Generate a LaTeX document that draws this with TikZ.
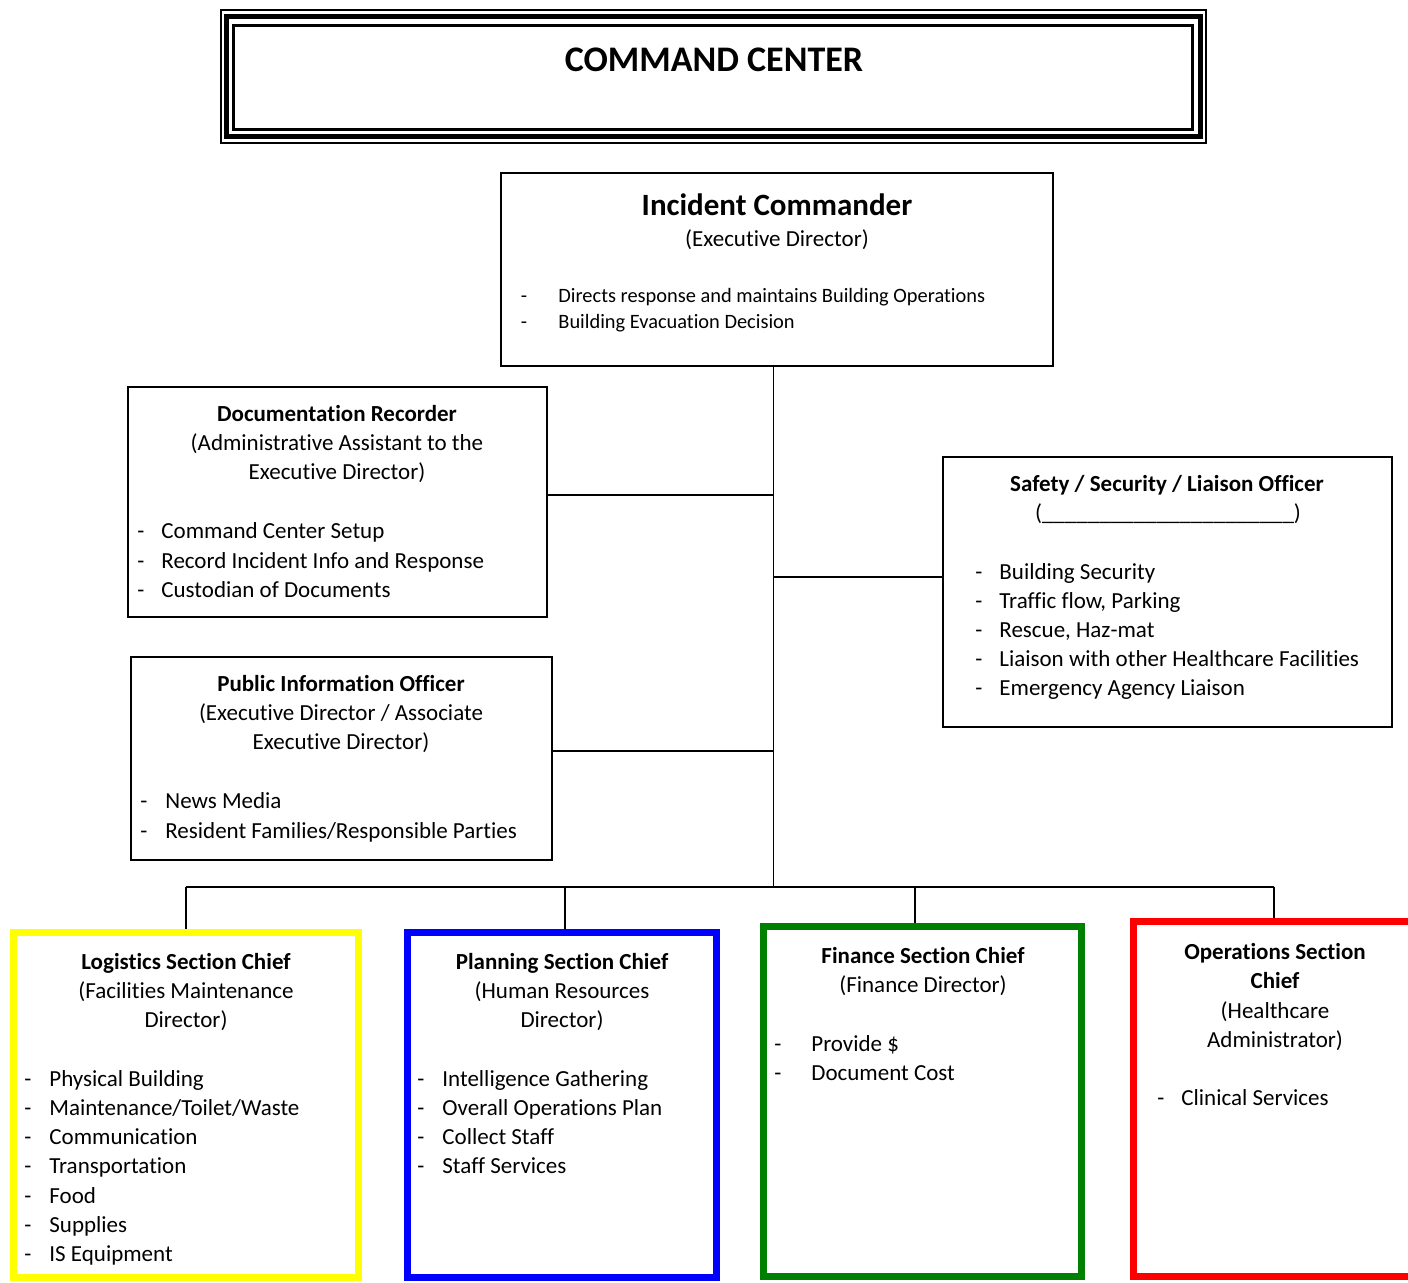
\documentclass[tikz,border=0pt]{standalone}
\usepackage{fontspec}
\setmainfont{Carlito}[Ligatures=NoCommon]
\usetikzlibrary{fit}
\definecolor{secyellow}{RGB}{255,255,0}
\definecolor{secblue}{RGB}{0,0,255}
\definecolor{secgreen}{RGB}{0,128,0}
\definecolor{secred}{RGB}{255,0,0}
\tikzset{
  txt/.style={inner sep=0pt, anchor=base, font=\fontsize{11.5}{14}\selectfont},
  ttl/.style={inner sep=0pt, anchor=base, font=\fontsize{11.5}{14}\selectfont\bfseries},
  dsh/.style={inner sep=0pt, anchor=base, font=\fontsize{11.5}{14}\selectfont},
  itm/.style={inner sep=0pt, anchor=base west, font=\fontsize{11.5}{14}\selectfont},
  sdsh/.style={dsh, font=\fontsize{10.2}{12}\selectfont},
  sitm/.style={itm, font=\fontsize{10.2}{12}\selectfont},
  plainbox/.style={draw, line width=1pt, inner sep=0pt},
  secbox/.style={draw, line width=3.5pt, inner sep=0pt},
  conn/.style={line width=0.75pt}
}
\newcommand\bul[5]{\node[dsh] (#1-d) at (#2,#4) {-}; \node[itm] (#1) at (#3,#4) {#5};}
\newcommand\sbul[5]{\node[sdsh] (#1-d) at (#2,#4) {-}; \node[sitm] (#1) at (#3,#4) {#5};}
\begin{document}
\begin{tikzpicture}[x=0.5pt, y=-0.5pt]
\clip (0,0) rectangle (1408,1282);
\fill[white] (0,0) rectangle (1408,1282);

% Command center triple frame
\node[fit={(221,10)(1206,143)}, draw, line width=1pt, inner sep=0pt] (cc) {};
\node[fit={(226.5,16)(1200,136)}, draw, line width=2.5pt, inner sep=0pt] (cc2) {};
\node[fit={(233.5,25)(1192.5,129.5)}, draw, line width=1.5pt, inner sep=0pt] (cc3) {};
\node[inner sep=0pt, anchor=base, font=\fontsize{18}{22}\selectfont\bfseries] (cct) at (714,71) {COMMAND CENTER};

% Incident Commander
\node[fit={(501,173)(1053,366)}, plainbox] (ic) {};
\node[inner sep=0pt, anchor=base, font=\fontsize{15.5}{19}\selectfont\bfseries] (ic-t) at (777,215) {Incident Commander};
\node[txt] (ic-s) at (777,246) {(Executive Director)};
\sbul{ic-b1}{524}{558}{302}{Directs response and maintains Building Operations}
\sbul{ic-b2}{524}{558}{328}{Building Evacuation Decision}

% Documentation Recorder
\node[fit={(128,387)(547,617)}, plainbox] (dr) {};
\node[ttl] (dr-t) at (337,421) {Documentation Recorder};
\node[txt] (dr-s1) at (337,450) {(Administrative Assistant to the};
\node[txt] (dr-s2) at (337,479) {Executive Director)};
\bul{dr-b1}{141}{161}{538}{Command Center Setup}
\bul{dr-b2}{141}{161}{568}{Record Incident Info and Response}
\bul{dr-b3}{141}{161}{597}{Custodian of Documents}

% Safety / Security / Liaison Officer
\node[fit={(943,457)(1392,727)}, plainbox] (so) {};
\node[ttl] (so-t) at (1167,491) {Safety / Security / Liaison Officer};
\node[txt] (so-s) at (1168,520) {(\_\_\_\_\_\_\_\_\_\_\_\_\_\_\_\_\_\_\_\_\_\_)};
\bul{so-b1}{979}{999}{579}{Building Security}
\bul{so-b2}{979}{999}{608}{Traffic flow, Parking}
\bul{so-b3}{979}{999}{637}{Rescue, Haz-mat}
\bul{so-b4}{979}{999}{666}{Liaison with other Healthcare Facilities}
\bul{so-b5}{979}{999}{695}{Emergency Agency Liaison}

% Public Information Officer
\node[fit={(131,657)(552,860)}, plainbox] (pio) {};
\node[ttl] (pio-t) at (341,691) {Public Information Officer};
\node[txt] (pio-s1) at (341,720) {(Executive Director / Associate};
\node[txt] (pio-s2) at (341,749) {Executive Director)};
\bul{pio-b1}{144}{165}{808}{News Media}
\bul{pio-b2}{144}{165}{838}{Resident Families/Responsible Parties}

% Section chiefs
\node[fit={(13.5,932.5)(358.5,1277.5)}, secbox, draw=secyellow] (log) {};
\node[ttl] (log-t) at (186,969) {Logistics Section Chief};
\node[txt] (log-s1) at (186,998) {(Facilities Maintenance};
\node[txt] (log-s2) at (186,1027) {Director)};
\bul{log-b1}{28}{49}{1086}{Physical Building}
\bul{log-b2}{28}{49}{1115}{Maintenance/Toilet/Waste}
\bul{log-b3}{28}{49}{1144}{Communication}
\bul{log-b4}{28}{49}{1173}{Transportation}
\bul{log-b5}{28}{49}{1203}{Food}
\bul{log-b6}{28}{49}{1232}{Supplies}
\bul{log-b7}{28}{49}{1261}{IS Equipment}

\node[fit={(407.5,932.5)(716.5,1277.5)}, secbox, draw=secblue] (pln) {};
\node[ttl] (pln-t) at (562,969) {Planning Section Chief};
\node[txt] (pln-s1) at (562,998) {(Human Resources};
\node[txt] (pln-s2) at (562,1027) {Director)};
\bul{pln-b1}{421}{442}{1086}{Intelligence Gathering}
\bul{pln-b2}{421}{442}{1115}{Overall Operations Plan}
\bul{pln-b3}{421}{442}{1144}{Collect Staff}
\bul{pln-b4}{421}{442}{1173}{Staff Services}

\node[fit={(763.5,926.5)(1081.5,1276.5)}, secbox, draw=secgreen] (fin) {};
\node[ttl] (fin-t) at (923,963) {Finance Section Chief};
\node[txt] (fin-s) at (923,992) {(Finance Director)};
\bul{fin-b1}{778}{811}{1051}{Provide \$}
\bul{fin-b2}{778}{811}{1080}{Document Cost}

\node[fit={(1133.5,921.5)(1420,1276.5)}, secbox, draw=secred] (ops) {};
\node[ttl] (ops-t1) at (1275,959) {Operations Section};
\node[ttl] (ops-t2) at (1275,988) {Chief};
\node[txt] (ops-s1) at (1275,1018) {(Healthcare};
\node[txt] (ops-s2) at (1275,1047) {Administrator)};
\bul{ops-b1}{1161}{1181}{1105}{Clinical Services}

% Connectors
\coordinate (t0) at (773.5,366);
\coordinate (jdr) at (773.5,495);
\coordinate (jso) at (773.5,577);
\coordinate (jpio) at (773.5,751);
\coordinate (jbus) at (773.5,887);
\coordinate (bl) at (186,887);
\coordinate (b2) at (565,887);
\coordinate (b3) at (915,887);
\coordinate (br) at (1274,887);
\draw[conn] (t0) -- (jbus);
\draw[conn] (dr.east |- jdr) -- (jdr);
\draw[conn] (jso) -- (so.west |- jso);
\draw[conn] (pio.east |- jpio) -- (jpio);
\draw[conn] (bl) -- (br);
\draw[conn] (bl) -- (log.north -| bl);
\draw[conn] (b2) -- (pln.north -| b2);
\draw[conn] (b3) -- (fin.north -| b3);
\draw[conn] (br) -- (ops.north -| br);
\end{tikzpicture}
\end{document}
